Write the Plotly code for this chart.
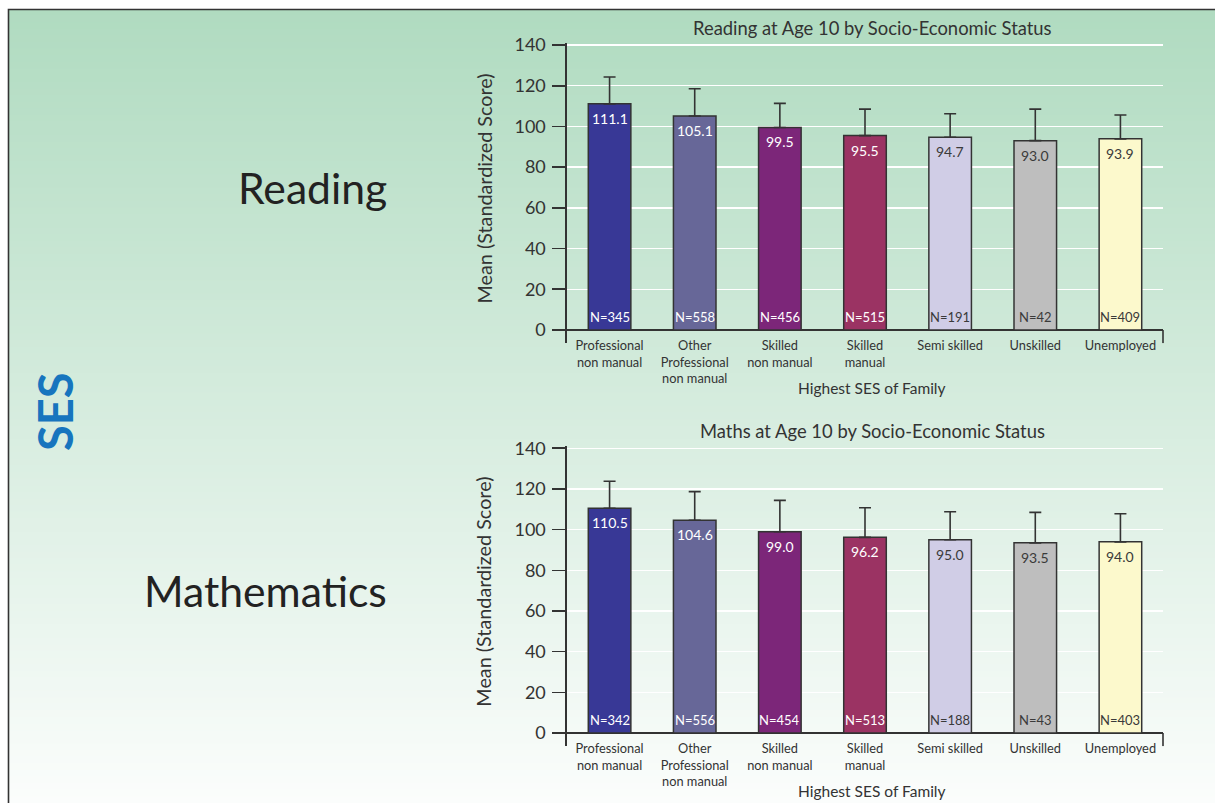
import plotly.graph_objects as go

W, H = 1215, 803

categories = ["Professional<br>non manual", "Other<br>Professional<br>non manual",
              "Skilled<br>non manual", "Skilled<br>manual", "Semi skilled",
              "Unskilled", "Unemployed"]
reading_mean = [111.1, 105.1, 99.5, 95.5, 94.7, 93.0, 93.9]
reading_err = [13.2, 13.4, 11.8, 13.0, 11.5, 15.5, 11.7]
reading_n = [345, 558, 456, 515, 191, 42, 409]
maths_mean = [110.5, 104.6, 99.0, 96.2, 95.0, 93.5, 94.0]
maths_err = [13.3, 14.1, 15.4, 14.6, 13.8, 15.0, 13.8]
maths_n = [342, 556, 454, 513, 188, 43, 403]
y_ticks = [0, 20, 40, 60, 80, 100, 120, 140]

bar_colors = ["#383896", "#676798", "#7c2679", "#9b3363", "#d0cde6", "#bebebe", "#fcf9cc"]
label_colors = ["white", "white", "white", "white", "#3a3a3a", "#3a3a3a", "#3a3a3a"]

FONT = "Lato"
TXT = "#333333"


def px(x):
    return x / W


def py(y):
    return 1 - y / H


fig = go.Figure()

panels = [
    dict(mean=reading_mean, err=reading_err, n=reading_n, x="x", y="y",
         title="Reading at Age 10 by Socio-Economic Status", top=45, zero=330,
         side="Reading"),
    dict(mean=maths_mean, err=maths_err, n=maths_n, x="x2", y="y2",
         title="Maths at Age 10 by Socio-Economic Status", top=448.3, zero=733,
         side="Mathematics"),
]

shapes = []
annotations = []

# gradient background
N_BANDS = 120
c0 = (176, 219, 192)
c1 = (251, 253, 252)
y_start, y_end = 9, 803
for i in range(N_BANDS):
    t = i / (N_BANDS - 1)
    col = tuple(round(c0[k] + (c1[k] - c0[k]) * t) for k in range(3))
    ya = y_start + (y_end - y_start) * i / N_BANDS
    yb = y_start + (y_end - y_start) * (i + 1) / N_BANDS + 1
    shapes.append(dict(type="rect", xref="paper", yref="paper", layer="below",
                       x0=px(8), x1=px(1220), y0=py(ya), y1=py(yb),
                       line=dict(width=0), fillcolor="rgb(%d,%d,%d)" % col))
# frame
shapes.append(dict(type="rect", xref="paper", yref="paper", layer="above",
                   x0=px(8.5), x1=px(1225), y0=py(9.5), y1=py(820),
                   line=dict(color="#333333", width=1.6), fillcolor="rgba(0,0,0,0)"))

layout_axes = {}
for idx, p in enumerate(panels):
    scale = (p["zero"] - p["top"]) / 140.0
    ymin, ymax = -6.5, 141
    dom_bottom = p["zero"] - ymin * scale
    dom_top = p["zero"] - ymax * scale
    xa = "xaxis" if idx == 0 else "xaxis2"
    ya = "yaxis" if idx == 0 else "yaxis2"
    fig.add_trace(go.Bar(
        x=categories, y=p["mean"], xaxis=p["x"], yaxis=p["y"],
        marker=dict(color=bar_colors, line=dict(color="#333333", width=1.5)),
        error_y=dict(type="data", array=p["err"], symmetric=False,
                     arrayminus=[0] * len(p["err"]), color="#333333",
                     thickness=1.6, width=6),
        showlegend=False, hoverinfo="skip"))
    layout_axes[xa] = dict(domain=[px(567), px(1163)], anchor=p["y"],
                           showgrid=False, showline=False, ticks="",
                           tickfont=dict(family=FONT, size=12.8, color=TXT),
                           ticklabelstandoff=-7, fixedrange=True, automargin=False)
    layout_axes[ya] = dict(domain=[py(dom_bottom), py(dom_top)], anchor=p["x"],
                           range=[ymin, ymax], tickvals=y_ticks,
                           showgrid=True, gridcolor="white", gridwidth=1.3,
                           zeroline=True, zerolinecolor="#333333", zerolinewidth=1.6,
                           showline=True, linecolor="#333333", linewidth=1.6,
                           ticks="outside", ticklen=13, tickwidth=1.6, tickcolor="#333333",
                           tickfont=dict(family=FONT, size=18, color=TXT),
                           ticklabelstandoff=3, fixedrange=True, automargin=False)
    # right-end downward tick
    shapes.append(dict(type="line", xref=p["x"] + " domain", yref=p["y"],
                       x0=1, x1=1, y0=0, y1=ymin, line=dict(color="#333333", width=1.6)))
    # value and N labels
    for c, m, n, lc in zip(categories, p["mean"], p["n"], label_colors):
        annotations.append(dict(x=c, y=m, xref=p["x"], yref=p["y"], text="%.1f" % m,
                                showarrow=False, yanchor="top", yshift=-4,
                                font=dict(family=FONT, size=14, color=lc)))
        annotations.append(dict(x=c, y=0, xref=p["x"], yref=p["y"], text="N=%d" % n,
                                showarrow=False, yanchor="bottom", yshift=3,
                                font=dict(family=FONT, size=13, color=lc)))
    # chart title
    annotations.append(dict(x=px(872), y=py(p["top"] - 17), xref="paper", yref="paper",
                            text=p["title"], showarrow=False, xanchor="center",
                            yanchor="middle",
                            font=dict(family=FONT, size=18.4, color=TXT)))
    # y-axis title
    annotations.append(dict(x=px(483), y=py((p["top"] + p["zero"]) / 2 + 1), xref="paper",
                            yref="paper", text="Mean (Standardized Score)",
                            showarrow=False, textangle=-90, xanchor="center",
                            yanchor="middle",
                            font=dict(family=FONT, size=19.8, color=TXT)))
    # x-axis title
    annotations.append(dict(x=px(872), y=py(p["zero"] + 58), xref="paper", yref="paper",
                            text="Highest SES of Family", showarrow=False,
                            xanchor="center", yanchor="middle",
                            font=dict(family=FONT, size=15.5, color=TXT)))
    # side label
    annotations.append(dict(x=px(389), y=py(187 if idx == 0 else 590), xref="paper",
                            yref="paper", text=p["side"], showarrow=False,
                            xanchor="right", yanchor="middle",
                            font=dict(family=FONT, size=42.7, color="#222222")))

annotations.append(dict(x=px(55), y=py(412), xref="paper", yref="paper",
                        text="<b>SES</b>", showarrow=False, textangle=-90,
                        xanchor="center", yanchor="middle",
                        font=dict(family=FONT, size=47, color="#1775be")))

fig.update_layout(
    width=W, height=H, margin=dict(l=0, r=0, t=0, b=0, pad=0, autoexpand=False),
    paper_bgcolor="white", plot_bgcolor="rgba(0,0,0,0)",
    bargap=0.5, shapes=shapes, annotations=annotations,
    font=dict(family=FONT, color=TXT),
    **layout_axes)

fig.write_html(
    "out.html",
    config={"displayModeBar": False, "staticPlot": True},
    post_script=("var gd=document.getElementById('{plot_id}');"
                 "gd.style.position='fixed';gd.style.top='0px';gd.style.left='0px';"
                 "document.body.style.margin='0';"
                 "document.body.style.overflow='hidden';"))
